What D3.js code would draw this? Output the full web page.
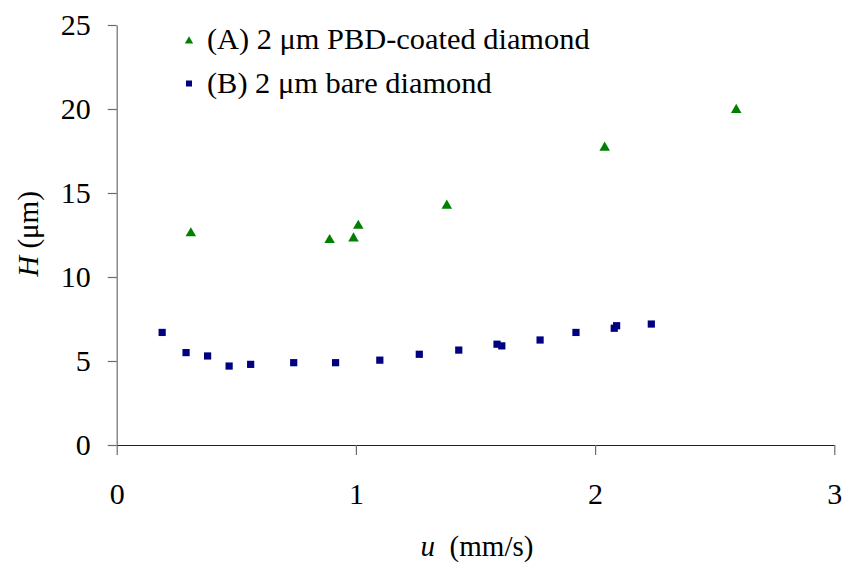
<!DOCTYPE html>
<html>
<head>
<meta charset="utf-8">
<script src="https://cdn.jsdelivr.net/npm/d3@7"></script>
<style>
  html, body { margin: 0; padding: 0; background: #fff; }
  svg { display: block; }
</style>
</head>
<body>
<svg id="chart" width="845" height="568"></svg>
<script>
// Series A: 2 µm PBD-coated diamond
const uA = [0.31, 0.89, 0.99, 1.01, 1.38, 2.04, 2.59];
const hA = [12.6, 12.2, 12.3, 13.05, 14.25, 17.7, 19.95];

// Series B: 2 µm bare diamond
const uB = [0.19, 0.29, 0.38, 0.47, 0.56, 0.74, 0.915, 1.10, 1.265, 1.43, 1.59, 1.61, 1.77, 1.92, 2.08, 2.09, 2.235];
const hB = [6.7, 5.5, 5.3, 4.7, 4.8, 4.9, 4.9, 5.05, 5.4, 5.65, 6.0, 5.9, 6.25, 6.7, 6.95, 7.1, 7.2];

const xTicks = [0, 1, 2, 3];
const yTicks = [0, 5, 10, 15, 20, 25];

const legendLabels = ["(A) 2 \u03bcm PBD-coated diamond", "(B) 2 \u03bcm bare diamond"];
const colors = ["#008000", "#000080"];

const SERIF = "Liberation Serif";

const svg = d3.select("#chart");

const x = d3.scaleLinear().domain([0, 3]).range([116.7, 834.3]);
const y = d3.scaleLinear().domain([0, 25]).range([445, 25]);

// Y axis
const yAxis = svg.append("g")
  .attr("transform", `translate(${x(0)},0)`)
  .call(d3.axisLeft(y).tickValues(yTicks).tickFormat(d3.format("d"))
    .tickSize(9).tickSizeOuter(0).tickPadding(17));
yAxis.attr("font-family", SERIF).attr("font-size", 30);
yAxis.select(".domain").attr("stroke", "#6b6b6b").attr("stroke-width", 1.2);
yAxis.selectAll(".tick line").attr("stroke", "#6b6b6b").attr("stroke-width", 1.2);
yAxis.selectAll(".tick text").attr("fill", "#000").attr("font-family", SERIF);

// X axis
const xAxis = svg.append("g")
  .attr("transform", `translate(0,${y(0)})`)
  .call(d3.axisBottom(x).tickValues(xTicks).tickFormat(d3.format("d"))
    .tickSize(10).tickSizeOuter(0).tickPadding(28));
xAxis.attr("font-family", SERIF).attr("font-size", 30);
xAxis.select(".domain").attr("stroke", "#222").attr("stroke-width", 1.2);
xAxis.selectAll(".tick line").attr("stroke", "#6b6b6b").attr("stroke-width", 1.2);
xAxis.selectAll(".tick text").attr("fill", "#000").attr("font-family", SERIF);

// Axis titles
const yTitle = svg.append("text")
  .attr("transform", `translate(38,234) rotate(-90)`)
  .attr("text-anchor", "middle")
  .attr("font-family", SERIF)
  .attr("font-size", 29);
yTitle.append("tspan").attr("font-style", "italic").text("H");
yTitle.append("tspan").text(" (\u03bcm)");

const xTitle = svg.append("text")
  .attr("x", 477)
  .attr("y", 556)
  .attr("text-anchor", "middle")
  .attr("font-family", SERIF)
  .attr("font-size", 29);
xTitle.append("tspan").attr("font-style", "italic").text("u");
xTitle.append("tspan").text("\u00a0 (mm/s)");

// Markers
const tri = d3.symbol().type(d3.symbolTriangle).size(48);

svg.append("g").selectAll("path")
  .data(uA.map((u, i) => [u, hA[i]]))
  .join("path")
  .attr("d", tri)
  .attr("transform", d => `translate(${x(d[0])},${y(d[1])})`)
  .attr("fill", colors[0]);

svg.append("g").selectAll("rect")
  .data(uB.map((u, i) => [u, hB[i]]))
  .join("rect")
  .attr("x", d => x(d[0]) - 3.6)
  .attr("y", d => y(d[1]) - 3.6)
  .attr("width", 7.2)
  .attr("height", 7.2)
  .attr("fill", colors[1]);

// Legend
const legend = svg.append("g");
legend.append("path")
  .attr("d", d3.symbol().type(d3.symbolTriangle).size(30))
  .attr("transform", "translate(189,41)")
  .attr("fill", colors[0]);
legend.append("rect")
  .attr("x", 186).attr("y", 80.5).attr("width", 6).attr("height", 6)
  .attr("fill", colors[1]);
legend.selectAll("text")
  .data(legendLabels)
  .join("text")
  .attr("x", 207)
  .attr("y", (d, i) => 49 + i * 44)
  .attr("font-family", SERIF)
  .attr("font-size", 30.4)
  .attr("fill", "#000")
  .text(d => d);
</script>
</body>
</html>
